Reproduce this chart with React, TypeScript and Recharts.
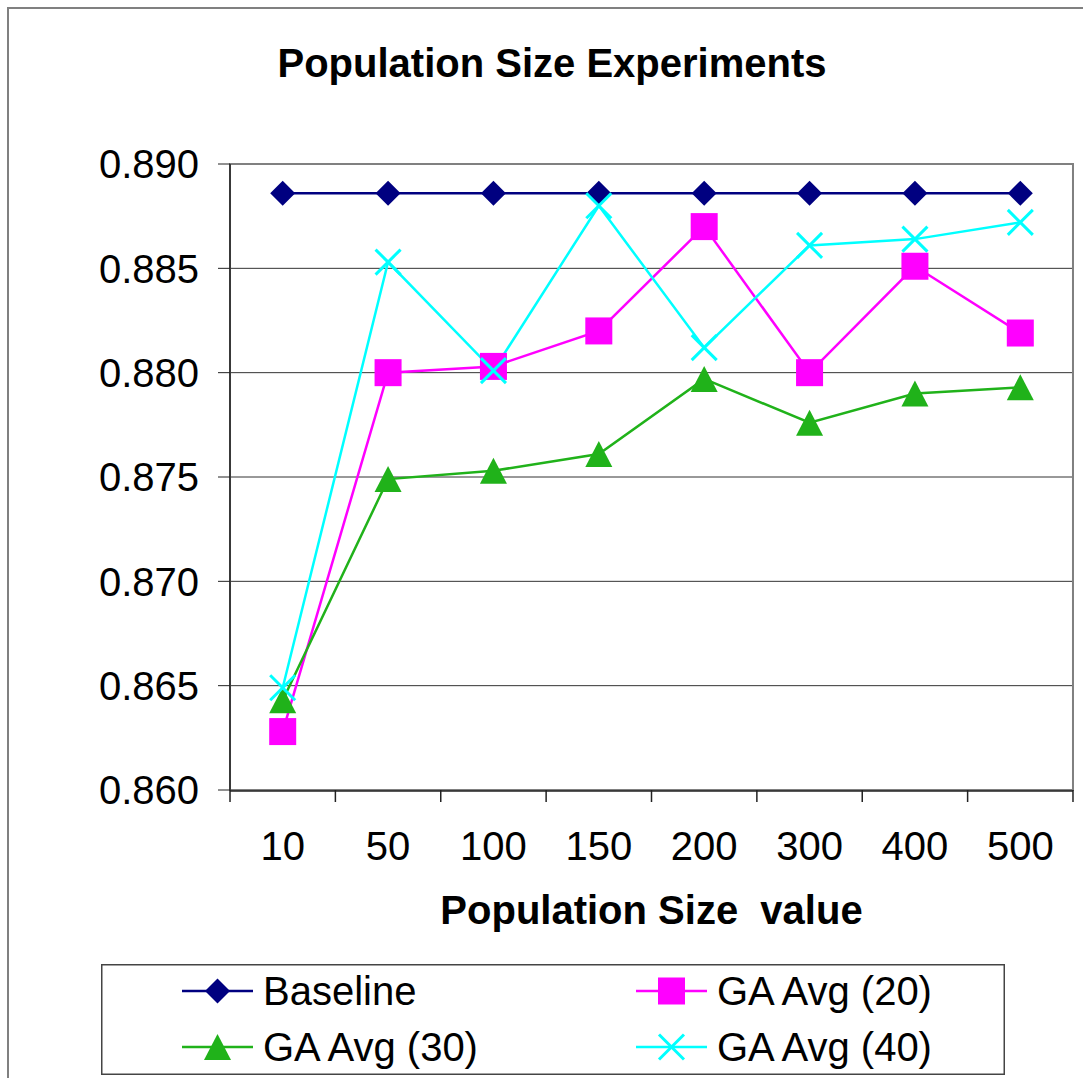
import { LineChart, Line, XAxis, YAxis, CartesianGrid, Legend, ReferenceArea } from 'recharts';

const sizes = ['10', '50', '100', '150', '200', '300', '400', '500'];
const baseline = [0.8886, 0.8886, 0.8886, 0.8886, 0.8886, 0.8886, 0.8886, 0.8886];
const gaAvg20 = [0.8628, 0.8800, 0.8803, 0.8820, 0.8870, 0.8800, 0.8851, 0.8819];
const gaAvg30 = [0.8643, 0.8749, 0.8753, 0.8761, 0.8797, 0.8776, 0.8790, 0.8793];
const gaAvg40 = [0.8649, 0.8853, 0.8801, 0.8880, 0.8812, 0.8861, 0.8864, 0.8872];
const yTicks = [0.86, 0.865, 0.87, 0.875, 0.88, 0.885, 0.89];
// category boundaries (between points), in index units
const boundaryTicks = [-0.5, 0.5, 1.5, 2.5, 3.5, 4.5, 5.5, 6.5, 7.5];

const series = [
  { key: 'baseline', name: 'Baseline', color: '#000080', shape: 'diamond' },
  { key: 'ga20', name: 'GA Avg (20)', color: '#FF00FF', shape: 'square' },
  { key: 'ga30', name: 'GA Avg (30)', color: '#20B21A', shape: 'triangle' },
  { key: 'ga40', name: 'GA Avg (40)', color: '#00FFFF', shape: 'cross' },
];

const chartData = sizes.map((size, i) => ({
  size,
  idx: i,
  baseline: baseline[i],
  ga20: gaAvg20[i],
  ga30: gaAvg30[i],
  ga40: gaAvg40[i],
}));

const FONT = '"Liberation Sans", Arial, Helvetica, sans-serif';
const HALF_BAND = 52.7;

const Marker = ({ shape, cx, cy, color }: { shape: string; cx: number; cy: number; color: string }) => {
  if (cx == null || cy == null) return <g />;
  if (shape === 'diamond') {
    return <polygon points={`${cx},${cy - 12.5} ${cx + 12.5},${cy} ${cx},${cy + 12.5} ${cx - 12.5},${cy}`} fill={color} />;
  }
  if (shape === 'square') {
    return <rect x={cx - 13.5} y={cy - 13.5} width={27} height={27} fill={color} />;
  }
  if (shape === 'triangle') {
    return <polygon points={`${cx},${cy - 13} ${cx + 13.5},${cy + 13} ${cx - 13.5},${cy + 13}`} fill={color} />;
  }
  return (
    <g stroke={color} strokeWidth={3}>
      <line x1={cx - 12.5} y1={cy - 12.5} x2={cx + 12.5} y2={cy + 12.5} />
      <line x1={cx - 12.5} y1={cy + 12.5} x2={cx + 12.5} y2={cy - 12.5} />
    </g>
  );
};

const noLabel = () => <g />;

const renderLegend = () => (
  <svg width={904} height={111} style={{ display: 'block' }}>
    <rect x={0.75} y={0.75} width={902.5} height={109.5} fill="#fff" stroke="#444" strokeWidth={1.5} />
    {series.map((s, i) => {
      const lx = i % 2 === 0 ? 81 : 535;
      const ly = i < 2 ? 27 : 83;
      return (
        <g key={s.key}>
          <line x1={lx} x2={lx + 71} y1={ly} y2={ly} stroke={s.color} strokeWidth={2.5} />
          <Marker shape={s.shape} cx={lx + 35.5} cy={ly} color={s.color} />
          <text x={lx + 81} y={ly + 14} fontSize={40} fill="#000" fontFamily={FONT}>
            {s.name}
          </text>
        </g>
      );
    })}
  </svg>
);

export default function App() {
  return (
    <div
      style={{
        position: 'absolute',
        left: 0,
        top: 0,
        width: 1083,
        height: 1078,
        overflow: 'hidden',
        background: '#fff',
        fontFamily: FONT,
      }}
    >
      <div
        style={{
          position: 'absolute',
          left: 7,
          top: 7,
          width: 1200,
          height: 1200,
          borderTop: '2px solid #808080',
          borderLeft: '2px solid #808080',
        }}
      />
      <LineChart
        width={1083}
        height={1078}
        data={chartData}
        margin={{ top: 164, right: 10, bottom: 227, left: 130 }}
        style={{ position: 'absolute', left: 0, top: 0 }}
      >
        <text x={552} y={77} textAnchor="middle" fontSize={40} fontWeight="bold" fill="#000" fontFamily={FONT}>
          Population Size Experiments
        </text>
        <CartesianGrid xAxisId="b" vertical={false} stroke="#333" strokeWidth={1} />
        <XAxis
          xAxisId="a"
          type="number"
          dataKey="idx"
          domain={[0, 7]}
          ticks={boundaryTicks}
          interval={0}
          padding={{ left: HALF_BAND, right: HALF_BAND }}
          height={1}
          tickSize={12}
          tick={noLabel}
          tickLine={{ stroke: '#222', strokeWidth: 1.5 }}
          axisLine={false}
        />
        <XAxis
          xAxisId="b"
          dataKey="size"
          height={60}
          padding={{ left: HALF_BAND, right: HALF_BAND }}
          tickLine={false}
          tickSize={12}
          tickMargin={29}
          axisLine={{ stroke: '#222', strokeWidth: 1.5 }}
          tick={{ fontSize: 40, fill: '#000' }}
          interval={0}
          label={{
            value: 'Population Size\u00A0 value',
            position: 'bottom',
            offset: 45,
            fontSize: 40,
            fontWeight: 'bold',
            fill: '#000',
          }}
        />
        <ReferenceArea
          xAxisId="a"
          x1={-0.5}
          x2={7.5}
          y1={0.86}
          y2={0.89}
          fill="none"
          stroke="#808080"
          strokeWidth={2}
          ifOverflow="visible"
        />
        <YAxis
          width={100}
          domain={[0.86, 0.89]}
          ticks={yTicks}
          allowDataOverflow
          tickFormatter={(v: number) => v.toFixed(3)}
          tickSize={12}
          tickMargin={19}
          tick={{ fontSize: 40, fill: '#000' }}
          axisLine={{ stroke: '#222', strokeWidth: 1.5 }}
          tickLine={{ stroke: '#222' }}
        />
        {series.map((s) => (
          <Line
            key={s.key}
            xAxisId="b"
            type="linear"
            dataKey={s.key}
            name={s.name}
            stroke={s.color}
            strokeWidth={2.5}
            isAnimationActive={false}
            dot={(p: any) => <Marker key={`${s.key}-${p.index}`} shape={s.shape} cx={p.cx} cy={p.cy} color={s.color} />}
            activeDot={false}
          />
        ))}
        <Legend
          layout="horizontal"
          verticalAlign="middle"
          align="center"
          content={renderLegend}
          wrapperStyle={{ left: 101, top: 964, width: 904, height: 111 }}
        />
      </LineChart>
    </div>
  );
}
